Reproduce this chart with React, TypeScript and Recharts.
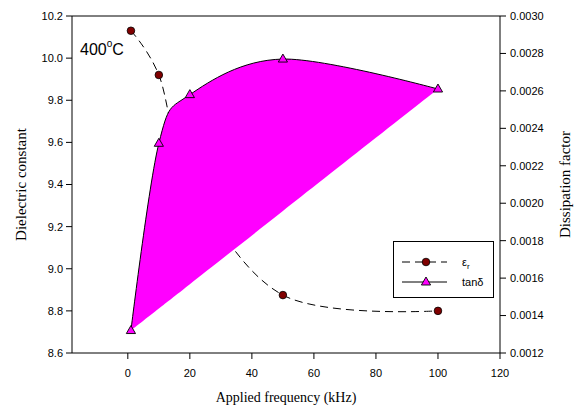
import React from 'react';
import { ComposedChart, Line, Area, Scatter, XAxis, YAxis, ReferenceLine, Legend } from 'recharts';

const frequencies = [1, 10, 20, 50, 100];
const dielectricConstant = [10.13, 9.92, 9.43, 8.875, 8.8];
const dissipationFactor = [0.00132, 0.00232, 0.00258, 0.00277, 0.00261];
const xTicks = [0, 20, 40, 60, 80, 100, 120];
const leftTicks = [8.6, 8.8, 9.0, 9.2, 9.4, 9.6, 9.8, 10.0, 10.2];
const rightTicks = [0.0012, 0.0014, 0.0016, 0.0018, 0.002, 0.0022, 0.0024, 0.0026, 0.0028, 0.003];

const SANS = '"Liberation Sans", Arial, sans-serif';
const SERIF = '"Liberation Serif", "Times New Roman", serif';
const MAGENTA = '#FF00FF';
const DARKRED = '#800000';

// closing chord of the filled tan-delta shape (first point to last point)
const n = frequencies.length;
const data = frequencies.map((f, i) => {
  const chord =
    dissipationFactor[0] +
    ((dissipationFactor[n - 1] - dissipationFactor[0]) * (f - frequencies[0])) /
      (frequencies[n - 1] - frequencies[0]);
  return { freq: f, eps: dielectricConstant[i], tan: dissipationFactor[i], band: [chord, dissipationFactor[i]] };
});

// cardinal spline (tension 0) curve factory, d3-compatible
function cardinalPoint(that: any, x: number, y: number) {
  that._context.bezierCurveTo(
    that._x1 + that._k * (that._x2 - that._x0),
    that._y1 + that._k * (that._y2 - that._y0),
    that._x2 + that._k * (that._x1 - x),
    that._y2 + that._k * (that._y1 - y),
    that._x2,
    that._y2
  );
}
function splineCurve(context: any) {
  const c: any = {
    _context: context,
    _k: 1 / 6,
    _line: NaN,
    areaStart() { this._line = 0; },
    areaEnd() { this._line = NaN; },
    lineStart() {
      this._x0 = this._x1 = this._x2 = this._y0 = this._y1 = this._y2 = NaN;
      this._point = 0;
    },
    lineEnd() {
      switch (this._point) {
        case 2: this._context.lineTo(this._x2, this._y2); break;
        case 3: cardinalPoint(this, this._x1, this._y1); break;
      }
      if (this._line || (this._line !== 0 && this._point === 1)) this._context.closePath();
      this._line = 1 - this._line;
    },
    point(x: number, y: number) {
      x = +x; y = +y;
      switch (this._point) {
        case 0:
          this._point = 1;
          if (this._line) this._context.lineTo(x, y); else this._context.moveTo(x, y);
          break;
        case 1: this._point = 2; this._x1 = x; this._y1 = y; break;
        case 2: this._point = 3; cardinalPoint(this, x, y); break;
        default: cardinalPoint(this, x, y); break;
      }
      this._x0 = this._x1; this._x1 = this._x2; this._x2 = x;
      this._y0 = this._y1; this._y1 = this._y2; this._y2 = y;
    },
  };
  return c;
}

const CircleShape = (p: any) => {
  if (p.cx == null || p.cy == null) return null;
  return <circle cx={p.cx} cy={p.cy} r={3.8} fill={DARKRED} stroke="#000" strokeWidth={0.8} />;
};
const TriDot = (p: any) => {
  if (p.cx == null || p.cy == null) return null;
  const { cx, cy } = p;
  return (
    <path
      key={`t-${p.index}`}
      d={`M${cx},${cy - 5} L${cx + 4.6},${cy + 3} L${cx - 4.6},${cy + 3} Z`}
      fill={MAGENTA}
      stroke="#000"
      strokeWidth={0.9}
    />
  );
};

const LegendBox = () => (
  <svg width={101} height={57} style={{ display: 'block' }}>
    <rect x={0.5} y={0.5} width={100} height={56} fill="#fff" stroke="#000" strokeWidth={1} />
    <line x1={9} y1={21} x2={54} y2={21} stroke="#000" strokeWidth={1} strokeDasharray="8 5" />
    <circle cx={33} cy={21} r={3.8} fill={DARKRED} stroke="#000" strokeWidth={0.8} />
    <text x={69} y={25} fontFamily={SANS} fontSize={11} fill="#000">
      ε<tspan fontSize={8} dy={3}>r</tspan>
    </text>
    <line x1={9} y1={41} x2={54} y2={41} stroke="#000" strokeWidth={1} />
    <path d="M33,36 L37.6,44 L28.4,44 Z" fill={MAGENTA} stroke="#000" strokeWidth={0.9} />
    <text x={69} y={45} fontFamily={SANS} fontSize={11} fill="#000">tanδ</text>
  </svg>
);

const tickStyle = { fontSize: 11, fontFamily: SANS, fill: '#000' };

export default function App() {
  return (
    <div style={{ position: 'absolute', left: 0, top: 0, width: 579, height: 411, background: '#fff' }}>
      <ComposedChart width={579} height={411} data={data} margin={{ top: 16, right: 0, bottom: 0, left: 0 }}>
        <XAxis
          xAxisId="x"
          dataKey="freq"
          type="number"
          domain={[-18, 120]}
          ticks={xTicks}
          allowDataOverflow
          height={58}
          tickSize={6}
          tickMargin={10}
          stroke="#000"
          tick={tickStyle}
          label={{
            content: (p: any) => {
              const vb = p.viewBox || { x: 72, y: 353, width: 428, height: 58 };
              return (
                <text x={vb.x + vb.width / 2} y={vb.y + 49} textAnchor="middle" fontFamily={SERIF} fontSize={14} fill="#000">
                  Applied frequency (kHz)
                </text>
              );
            },
          }}
        />
        <YAxis
          yAxisId="left"
          type="number"
          domain={[8.6, 10.2]}
          ticks={leftTicks}
          allowDataOverflow
          width={72}
          tickSize={6}
          tickMargin={3}
          stroke="#000"
          tick={tickStyle}
          tickFormatter={(v: number) => v.toFixed(1)}
          label={{
            content: (p: any) => {
              const vb = p.viewBox || { x: 0, y: 16, width: 72, height: 337 };
              const cx = vb.x + 21;
              const cy = vb.y + vb.height / 2;
              return (
                <text x={cx} y={cy} transform={`rotate(-90 ${cx} ${cy})`} textAnchor="middle" dominantBaseline="central" fontFamily={SERIF} fontSize={15} fill="#000">
                  Dielectric constant
                </text>
              );
            },
          }}
        />
        <YAxis
          yAxisId="right"
          orientation="right"
          type="number"
          domain={[0.0012, 0.003]}
          ticks={rightTicks}
          allowDataOverflow
          width={79}
          tickSize={6}
          tickMargin={4}
          stroke="#000"
          tick={tickStyle}
          tickFormatter={(v: number) => v.toFixed(4)}
          label={{
            content: (p: any) => {
              const vb = p.viewBox || { x: 500, y: 16, width: 79, height: 337 };
              const cx = vb.x + 65;
              const cy = vb.y + vb.height / 2;
              return (
                <text x={cx} y={cy} transform={`rotate(-90 ${cx} ${cy})`} textAnchor="middle" dominantBaseline="central" fontFamily={SERIF} fontSize={15} fill="#000">
                  Dissipation factor
                </text>
              );
            },
          }}
        />
        <ReferenceLine yAxisId="left" xAxisId="x" y={10.2} stroke="#000" strokeWidth={1} ifOverflow="visible" />
        <Line
          xAxisId="x"
          yAxisId="left"
          dataKey="eps"
          name="εr"
          type={splineCurve as any}
          stroke="#000"
          strokeWidth={1}
          strokeDasharray="8 5"
          dot={false}
          activeDot={false}
          legendType="none"
          isAnimationActive={false}
          zIndex={50}
        />
        <Scatter
          xAxisId="x"
          yAxisId="left"
          dataKey="eps"
          name="εr"
          shape={CircleShape}
          legendType="none"
          isAnimationActive={false}
          zIndex={60}
        />
        <Area
          xAxisId="x"
          yAxisId="right"
          dataKey="band"
          type={splineCurve as any}
          stroke="none"
          fill={MAGENTA}
          fillOpacity={1}
          legendType="none"
          activeDot={false}
          isAnimationActive={false}
          zIndex={100}
        />
        <Line
          xAxisId="x"
          yAxisId="right"
          dataKey="tan"
          name="tanδ"
          type={splineCurve as any}
          stroke="#000"
          strokeWidth={1}
          dot={TriDot}
          activeDot={false}
          isAnimationActive={false}
          zIndex={400}
        />
        <Legend
          layout="horizontal"
          verticalAlign="middle"
          align="center"
          content={() => <LegendBox />}
          wrapperStyle={{ position: 'absolute', left: 393, top: 241, width: 101, height: 57 }}
        />
      </ComposedChart>
      <div
        style={{
          position: 'absolute',
          left: 80,
          top: 41,
          fontFamily: SANS,
          fontSize: 16,
          lineHeight: '18px',
          color: '#000',
          whiteSpace: 'nowrap',
        }}
      >
        400<span style={{ fontSize: 10, verticalAlign: 'top', lineHeight: '10px', position: 'relative', top: -2 }}>o</span>C
      </div>
    </div>
  );
}
